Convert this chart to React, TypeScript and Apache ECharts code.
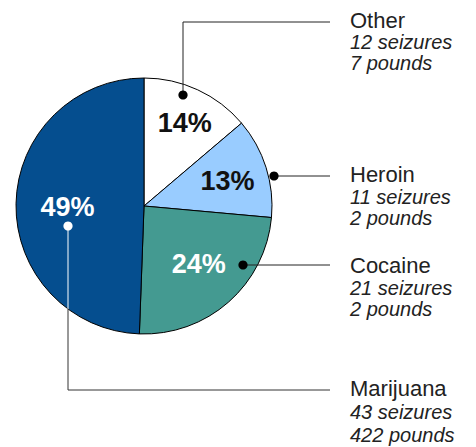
import React, { useEffect, useRef } from "react";
import * as echarts from "echarts";

// ---- data ----
const categories = ["Other", "Heroin", "Cocaine", "Marijuana"];
const seizures = [12, 11, 21, 43];
const pounds = [7, 2, 2, 422];
const sliceColors = ["#FFFFFF", "#99CCFF", "#449A91", "#054E8F"];
const pctColors = ["#111111", "#111111", "#FFFFFF", "#FFFFFF"];

// ---- layout ----
const CX = 144;
const CY = 206;
const R = 128;
const FONT = "'Liberation Sans', Arial, Helvetica, sans-serif";
const LINE_END_X = 330;
const TEXT_X = 350;
// small nudges of the percentage labels from their default inside position
const pctNudge: number[][] = [
  [4, -4],
  [0, 1],
  [-3, -8],
  [11, 3],
];
// leader-line paths (anchor dot first), and text block centre lines
const leaders: number[][][] = [
  [[183, 95], [183, 22], [LINE_END_X, 22]],
  [[274, 176], [LINE_END_X, 176]],
  [[243, 265], [LINE_END_X, 265]],
  [[68, 226], [68, 390], [LINE_END_X, 390]],
];
const textRows: number[][] = [
  [20, 42, 63],
  [174, 196.5, 217.5],
  [265, 288, 309],
  [388, 412, 435],
];

export default function App() {
  const ref = useRef<HTMLDivElement>(null);
  useEffect(() => {
    if (!ref.current) return;
    const chart = echarts.init(ref.current, undefined, { renderer: "svg" });
    const sliceData = categories.map((name, i) => ({
      name,
      value: seizures[i],
      itemStyle: { color: sliceColors[i] },
    }));
    const labelData = categories.map((name, i) => ({
      name,
      value: seizures[i],
      label: { color: pctColors[i] },
    }));

    const graphics: any[] = [];
    leaders.forEach((pts, i) => {
      const isMarijuana = i === 3;
      if (isMarijuana) {
        const [x0, y0] = pts[0];
        const edgeY = CY + Math.sqrt(R * R - (x0 - CX) * (x0 - CX));
        graphics.push({
          type: "line",
          shape: { x1: x0, y1: y0, x2: x0, y2: edgeY },
          style: { stroke: "#FFFFFF", lineWidth: 1 },
          z: 10,
        });
        graphics.push({
          type: "polyline",
          shape: { points: [[x0, edgeY], pts[1], pts[2]] },
          style: { stroke: "#333333", lineWidth: 1, fill: null },
          z: 10,
        });
      } else {
        graphics.push({
          type: "polyline",
          shape: { points: pts },
          style: { stroke: "#222222", lineWidth: 1, fill: null },
          z: 10,
        });
      }
      graphics.push({
        type: "circle",
        shape: { cx: pts[0][0], cy: pts[0][1], r: 4.6 },
        style: { fill: isMarijuana ? "#FFFFFF" : "#000000" },
        z: 11,
      });
      const rows = textRows[i];
      graphics.push({
        type: "text",
        x: TEXT_X,
        y: rows[0],
        style: {
          text: categories[i],
          font: `22px ${FONT}`,
          fill: "#222222",
          verticalAlign: "middle",
          align: "left",
        },
        z: 10,
      });
      graphics.push({
        type: "text",
        x: TEXT_X,
        y: rows[1],
        style: {
          text: `${seizures[i]} seizures`,
          font: `italic 20px ${FONT}`,
          fill: "#222222",
          verticalAlign: "middle",
          align: "left",
        },
        z: 10,
      });
      graphics.push({
        type: "text",
        x: TEXT_X,
        y: rows[2],
        style: {
          text: `${pounds[i]} pounds`,
          font: `italic 20px ${FONT}`,
          fill: "#222222",
          verticalAlign: "middle",
          align: "left",
        },
        z: 10,
      });
    });

    chart.setOption({
      animation: false,
      backgroundColor: "#FFFFFF",
      series: [
        {
          type: "pie",
          center: [CX, CY],
          radius: [0, R],
          startAngle: 90,
          clockwise: true,
          silent: true,
          label: { show: false },
          labelLine: { show: false },
          itemStyle: { borderColor: "#000000", borderWidth: 1 },
          data: sliceData,
        },
        {
          type: "pie",
          center: [CX, CY],
          radius: [0, R * 1.32],
          startAngle: 90,
          clockwise: true,
          silent: true,
          percentPrecision: 0,
          itemStyle: { color: "rgba(0,0,0,0)", borderWidth: 0 },
          label: {
            show: true,
            position: "inside",
            formatter: "{d}%",
            fontFamily: FONT,
            fontSize: 27,
            fontWeight: "bold",
          },
          labelLayout: (params: any) => ({
            dx: pctNudge[params.dataIndex][0],
            dy: pctNudge[params.dataIndex][1],
          }),
          labelLine: { show: false },
          data: labelData,
          z: 5,
        },
      ],
      graphic: graphics,
    });
    return () => chart.dispose();
  }, []);
  return (
    <div
      ref={ref}
      style={{ position: "absolute", left: 0, top: 0, width: 476, height: 447 }}
    />
  );
}
